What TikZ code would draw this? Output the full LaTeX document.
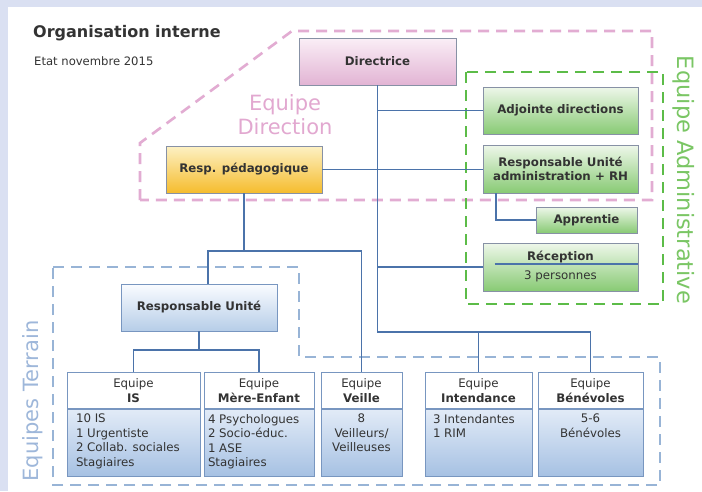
\documentclass[tikz,border=0pt]{standalone}
\usepackage{fontspec}
\setmainfont{DejaVu Sans}
\usetikzlibrary{shadows}
\definecolor{bglav}{RGB}{218,224,242}
\definecolor{txtgray}{RGB}{51,51,51}
\definecolor{boxline}{RGB}{135,145,165}
\definecolor{teamline}{RGB}{120,150,192}
\definecolor{linkblue}{RGB}{75,115,170}
\definecolor{pinktop}{RGB}{250,238,246}
\definecolor{pinkbot}{RGB}{226,180,212}
\definecolor{orangetop}{RGB}{253,241,196}
\definecolor{orangebot}{RGB}{245,188,45}
\definecolor{greentop}{RGB}{238,247,234}
\definecolor{greenbot}{RGB}{136,202,116}
\definecolor{bluetop}{RGB}{250,252,255}
\definecolor{bluebot}{RGB}{182,205,232}
\definecolor{teamtop}{RGB}{226,235,247}
\definecolor{teambot}{RGB}{166,193,227}
\definecolor{dashpink}{RGB}{226,172,210}
\definecolor{dashgreen}{RGB}{92,188,72}
\definecolor{dashblue}{RGB}{152,180,214}
\definecolor{lblpink}{RGB}{226,168,208}
\definecolor{lblgreen}{RGB}{122,198,100}
\definecolor{lblblue}{RGB}{158,183,218}
\tikzset{
  box/.style={draw=boxline, line width=0.8pt, minimum height=47pt, align=center,
    text=txtgray, font=\fontsize{11.8}{14}\selectfont\bfseries,
    drop shadow={shadow xshift=1.2pt, shadow yshift=-1.2pt, opacity=0.25, fill=black}},
  pinkbox/.style={box, top color=pinktop, bottom color=pinkbot},
  orangebox/.style={box, top color=orangetop, bottom color=orangebot},
  greenbox/.style={box, top color=greentop, bottom color=greenbot},
  bluebox/.style={box, draw=teamline, top color=bluetop, bottom color=bluebot},
  teamhead/.style={draw=teamline, line width=0.8pt, fill=white, minimum height=36pt,
    anchor=north, align=center, text=txtgray, font=\fontsize{11.8}{14.5}\selectfont,
    drop shadow={shadow xshift=1.2pt, shadow yshift=-1.2pt, opacity=0.25, fill=black}},
  teambody/.style={draw=teamline, line width=0.8pt, top color=teamtop, bottom color=teambot,
    anchor=north, inner ysep=5pt, text=txtgray, font=\fontsize{11.8}{14.5}\selectfont,
    drop shadow={shadow xshift=1.2pt, shadow yshift=-1.2pt, opacity=0.25, fill=black}},
  conn/.style={draw=linkblue, line width=1.8pt},
  groupline/.style={line width=2.6pt, dash pattern=on 11pt off 7pt},
  grouplabel/.style={font=\fontsize{21}{24}\selectfont, align=center}
}
\begin{document}
\begin{tikzpicture}[x=1pt, y=-1pt]
\useasboundingbox (0,0) rectangle (702,491);
\fill[bglav] (0,0) rectangle (702,491);
\fill[white] (8,7) rectangle (702,491);

\node[anchor=base west, inner sep=0, text=txtgray, font=\fontsize{16}{19}\selectfont\bfseries] (title) at (33,37) {Organisation interne};
\node[anchor=base west, inner sep=0, text=txtgray, font=\fontsize{11.6}{14}\selectfont] (date) at (34,65) {Etat novembre 2015};

% groupes
\draw[groupline, dashpink] (140,200) -- (140,143) -- (292,31) -- (652,31) -- (652,200) -- cycle;
\draw[groupline, dashgreen] (466,72) rectangle (663,304);
\draw[groupline, dashblue] (53,267) -- (299,267) -- (299,357) -- (660,357) -- (660,485) -- (53,485) -- cycle;
\node[grouplabel, text=lblpink] (dirlab) at (285,115) {Equipe\\Direction};
\node[grouplabel, text=lblgreen, rotate=-90, font=\fontsize{22.5}{26}\selectfont] (admlab) at (684,180) {Equipe Administrative};
\node[grouplabel, text=lblblue, rotate=90] (terlab) at (33,401) {Equipes Terrain};

\node[pinkbox, minimum width=157pt] (dir) at (377.5,61.5) {Directrice};
\node[orangebox, minimum width=156pt] (ped) at (244,169.5) {Resp. pédagogique};
\node[greenbox, minimum width=155pt] (adj) at (560.5,110.5) {Adjointe directions};
\node[greenbox, minimum width=155pt, minimum height=48pt] (radm) at (560.5,169) {Responsable Unité\\administration + RH};
\node[greenbox, minimum width=101pt, minimum height=26pt] (appr) at (586.5,220) {Apprentie};
\node[greenbox, minimum width=155pt, minimum height=48pt] (recep) at (560.5,267) {Réception\\[5pt]\mdseries 3 personnes};
\node[bluebox, minimum width=156pt] (resp) at (199,307.5) {Responsable Unité};

\node[teamhead, minimum width=133pt] (isHead) at (133.5,372) {Equipe\\\textbf{IS}};
\node[teambody, inner xsep=9pt] (isBody) at (isHead.south) {\parbox[t][57pt][t]{115pt}{\raggedright 10 IS\\1 Urgentiste\\2 Collab. sociales\\Stagiaires}};
\node[teamhead, minimum width=110pt] (mereHead) at (259,372) {Equipe\\\textbf{Mère-Enfant}};
\node[teambody, inner xsep=4pt] (mereBody) at (mereHead.south) {\parbox[t][57pt][t]{102pt}{\raggedright 4 Psychologues\\2 Socio-éduc.\\1 ASE\\Stagiaires}};
\node[teamhead, minimum width=81pt] (veilHead) at (361.5,372) {Equipe\\\textbf{Veille}};
\node[teambody, inner xsep=3pt] (veilBody) at (veilHead.south) {\parbox[t][57pt][t]{75pt}{\centering 8\\Veilleurs/\\Veilleuses}};
\node[teamhead, minimum width=107pt] (intHead) at (478.5,372) {Equipe\\\textbf{Intendance}};
\node[teambody, inner xsep=8pt] (intBody) at (intHead.south) {\parbox[t][57pt][t]{91pt}{\raggedright 3 Intendantes\\1 RIM}};
\node[teamhead, minimum width=105pt] (benHead) at (590.5,372) {Equipe\\\textbf{Bénévoles}};
\node[teambody, inner xsep=3pt] (benBody) at (benHead.south) {\parbox[t][57pt][t]{99pt}{\centering 5-6\\Bénévoles}};

% liens
\coordinate (hubA) at (244,251);
\coordinate (hubB) at (377.5,332);
\coordinate (hubC) at (199,350);
\draw[conn] ([xshift=12pt,yshift=3pt]recep.west) -- ([yshift=3pt]recep.east);
\draw[conn] (dir.south) -- (hubB) -| (benHead.north);
\draw[conn] (hubB -| intHead.north) -- (intHead.north);
\draw[conn] (dir.south |- adj.west) -- (adj.west);
\draw[conn] (dir.south |- recep.west) -- (recep.west);
\draw[conn] (ped.east) -- (ped.east -| radm.west);
\draw[conn] ([xshift=13pt]radm.south west) |- (appr.west);
\draw[conn] (ped.south) -- (hubA);
\draw[conn] ([xshift=9pt]resp.north) |- (veilHead.north |- hubA) -- (veilHead.north);
\draw[conn] (resp.south) -- (hubC);
\draw[conn] (isHead.north) |- (hubC) -| (mereHead.north);
\end{tikzpicture}
\end{document}
